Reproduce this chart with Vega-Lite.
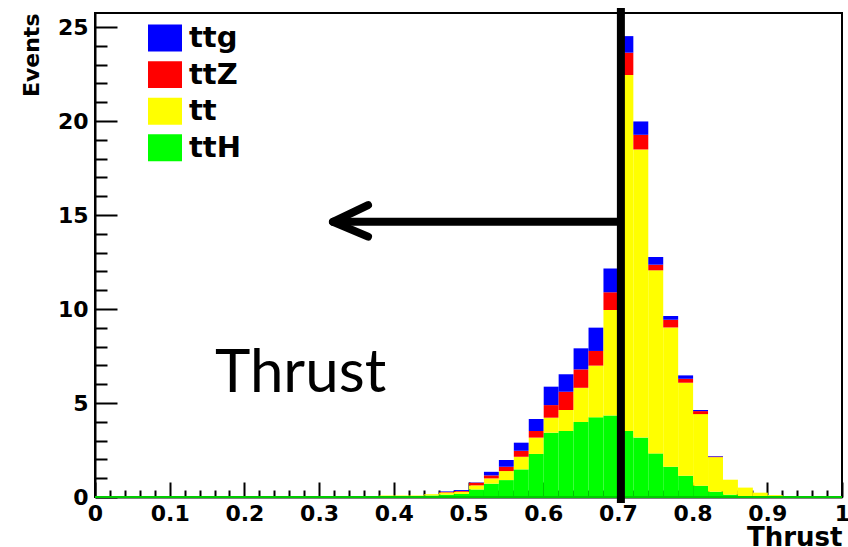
{
  "$schema": "https://vega.github.io/schema/vega-lite/v6.json",
  "width": 747,
  "height": 484,
  "autosize": {"type": "none"},
  "padding": {"left": 95, "top": 13, "right": 6, "bottom": 50},
  "background": "white",
  "config": {
    "view": {"stroke": "black", "strokeWidth": 2},
    "axis": {"grid": false, "zindex": 1},
    "legend": {
      "orient": "none",
      "legendX": 53,
      "legendY": 8,
      "symbolType": "M-1,-0.79H1V0.79H-1Z",
      "symbolSize": 1156,
      "symbolStrokeWidth": 0,
      "symbolOpacity": 1,
      "labelFont": "DejaVu Sans",
      "labelFontWeight": "bold",
      "labelFontSize": 29,
      "labelColor": "black",
      "labelOffset": 7,
      "rowPadding": 4.6
    }
  },
  "data": {
    "values": [
      {"bin": 0.38, "process": "tt", "n": 0.08, "rank": 2},
      {"bin": 0.40, "process": "tt", "n": 0.08, "rank": 2},
      {"bin": 0.42, "process": "tt", "n": 0.08, "rank": 2},
      {"bin": 0.44, "process": "ttH", "n": 0.08, "rank": 1},
      {"bin": 0.44, "process": "tt", "n": 0.07, "rank": 2},
      {"bin": 0.46, "process": "ttH", "n": 0.12, "rank": 1},
      {"bin": 0.46, "process": "tt", "n": 0.12, "rank": 2},
      {"bin": 0.46, "process": "ttZ", "n": 0.03, "rank": 3},
      {"bin": 0.46, "process": "ttg", "n": 0.03, "rank": 4},
      {"bin": 0.48, "process": "ttH", "n": 0.16, "rank": 1},
      {"bin": 0.48, "process": "tt", "n": 0.12, "rank": 2},
      {"bin": 0.48, "process": "ttZ", "n": 0.04, "rank": 3},
      {"bin": 0.48, "process": "ttg", "n": 0.05, "rank": 4},
      {"bin": 0.50, "process": "ttH", "n": 0.40, "rank": 1},
      {"bin": 0.50, "process": "tt", "n": 0.22, "rank": 2},
      {"bin": 0.50, "process": "ttZ", "n": 0.14, "rank": 3},
      {"bin": 0.50, "process": "ttg", "n": 0.02, "rank": 4},
      {"bin": 0.52, "process": "ttH", "n": 0.71, "rank": 1},
      {"bin": 0.52, "process": "tt", "n": 0.28, "rank": 2},
      {"bin": 0.52, "process": "ttZ", "n": 0.16, "rank": 3},
      {"bin": 0.52, "process": "ttg", "n": 0.19, "rank": 4},
      {"bin": 0.54, "process": "ttH", "n": 0.90, "rank": 1},
      {"bin": 0.54, "process": "tt", "n": 0.48, "rank": 2},
      {"bin": 0.54, "process": "ttZ", "n": 0.23, "rank": 3},
      {"bin": 0.54, "process": "ttg", "n": 0.36, "rank": 4},
      {"bin": 0.56, "process": "ttH", "n": 1.47, "rank": 1},
      {"bin": 0.56, "process": "tt", "n": 0.67, "rank": 2},
      {"bin": 0.56, "process": "ttZ", "n": 0.32, "rank": 3},
      {"bin": 0.56, "process": "ttg", "n": 0.43, "rank": 4},
      {"bin": 0.58, "process": "ttH", "n": 2.29, "rank": 1},
      {"bin": 0.58, "process": "tt", "n": 0.87, "rank": 2},
      {"bin": 0.58, "process": "ttZ", "n": 0.35, "rank": 3},
      {"bin": 0.58, "process": "ttg", "n": 0.64, "rank": 4},
      {"bin": 0.60, "process": "ttH", "n": 3.42, "rank": 1},
      {"bin": 0.60, "process": "tt", "n": 0.80, "rank": 2},
      {"bin": 0.60, "process": "ttZ", "n": 0.67, "rank": 3},
      {"bin": 0.60, "process": "ttg", "n": 0.98, "rank": 4},
      {"bin": 0.62, "process": "ttH", "n": 3.51, "rank": 1},
      {"bin": 0.62, "process": "tt", "n": 1.12, "rank": 2},
      {"bin": 0.62, "process": "ttZ", "n": 0.97, "rank": 3},
      {"bin": 0.62, "process": "ttg", "n": 0.93, "rank": 4},
      {"bin": 0.64, "process": "ttH", "n": 3.99, "rank": 1},
      {"bin": 0.64, "process": "tt", "n": 1.82, "rank": 2},
      {"bin": 0.64, "process": "ttZ", "n": 0.98, "rank": 3},
      {"bin": 0.64, "process": "ttg", "n": 1.12, "rank": 4},
      {"bin": 0.66, "process": "ttH", "n": 4.24, "rank": 1},
      {"bin": 0.66, "process": "tt", "n": 2.75, "rank": 2},
      {"bin": 0.66, "process": "ttZ", "n": 0.78, "rank": 3},
      {"bin": 0.66, "process": "ttg", "n": 1.24, "rank": 4},
      {"bin": 0.68, "process": "ttH", "n": 4.33, "rank": 1},
      {"bin": 0.68, "process": "tt", "n": 5.62, "rank": 2},
      {"bin": 0.68, "process": "ttZ", "n": 0.94, "rank": 3},
      {"bin": 0.68, "process": "ttg", "n": 1.27, "rank": 4},
      {"bin": 0.70, "process": "ttH", "n": 3.51, "rank": 1},
      {"bin": 0.70, "process": "tt", "n": 18.94, "rank": 2},
      {"bin": 0.70, "process": "ttZ", "n": 1.19, "rank": 3},
      {"bin": 0.70, "process": "ttg", "n": 0.88, "rank": 4},
      {"bin": 0.72, "process": "ttH", "n": 3.16, "rank": 1},
      {"bin": 0.72, "process": "tt", "n": 15.33, "rank": 2},
      {"bin": 0.72, "process": "ttZ", "n": 0.78, "rank": 3},
      {"bin": 0.72, "process": "ttg", "n": 0.71, "rank": 4},
      {"bin": 0.74, "process": "ttH", "n": 2.32, "rank": 1},
      {"bin": 0.74, "process": "tt", "n": 9.74, "rank": 2},
      {"bin": 0.74, "process": "ttZ", "n": 0.30, "rank": 3},
      {"bin": 0.74, "process": "ttg", "n": 0.41, "rank": 4},
      {"bin": 0.76, "process": "ttH", "n": 1.61, "rank": 1},
      {"bin": 0.76, "process": "tt", "n": 7.41, "rank": 2},
      {"bin": 0.76, "process": "ttZ", "n": 0.41, "rank": 3},
      {"bin": 0.76, "process": "ttg", "n": 0.20, "rank": 4},
      {"bin": 0.78, "process": "ttH", "n": 1.13, "rank": 1},
      {"bin": 0.78, "process": "tt", "n": 4.95, "rank": 2},
      {"bin": 0.78, "process": "ttZ", "n": 0.21, "rank": 3},
      {"bin": 0.78, "process": "ttg", "n": 0.18, "rank": 4},
      {"bin": 0.80, "process": "ttH", "n": 0.60, "rank": 1},
      {"bin": 0.80, "process": "tt", "n": 3.81, "rank": 2},
      {"bin": 0.80, "process": "ttZ", "n": 0.16, "rank": 3},
      {"bin": 0.80, "process": "ttg", "n": 0.06, "rank": 4},
      {"bin": 0.82, "process": "ttH", "n": 0.28, "rank": 1},
      {"bin": 0.82, "process": "tt", "n": 1.84, "rank": 2},
      {"bin": 0.82, "process": "ttZ", "n": 0.03, "rank": 3},
      {"bin": 0.82, "process": "ttg", "n": 0.03, "rank": 4},
      {"bin": 0.84, "process": "ttH", "n": 0.12, "rank": 1},
      {"bin": 0.84, "process": "tt", "n": 0.80, "rank": 2},
      {"bin": 0.86, "process": "ttH", "n": 0.03, "rank": 1},
      {"bin": 0.86, "process": "tt", "n": 0.47, "rank": 2},
      {"bin": 0.88, "process": "tt", "n": 0.23, "rank": 2},
      {"bin": 0.90, "process": "tt", "n": 0.10, "rank": 2},
      {"bin": 0.92, "process": "tt", "n": 0.03, "rank": 2}
    ]
  },
  "resolve": {"axis": {"x": "independent", "y": "independent"}},
  "layer": [
    {
      "mark": {"type": "bar", "opacity": 1, "binSpacing": 0},
      "encoding": {
        "x": {
          "field": "bin", "type": "quantitative",
          "bin": {"binned": true, "step": 0.02},
          "scale": {"domain": [0, 1], "nice": false, "zero": false},
          "axis": {
            "orient": "bottom",
            "values": [0, 0.1, 0.2, 0.3, 0.4, 0.5, 0.6, 0.7, 0.8, 0.9, 1],
            "format": "~g",
            "tickSize": -15, "tickWidth": 2, "tickColor": "black",
            "domainColor": "black", "domainWidth": 2,
            "labelFont": "DejaVu Sans", "labelFontWeight": "bold", "labelFontSize": 22,
            "labelColor": "black", "labelPadding": 21, "labelFlush": false, "labelOverlap": false,
            "labelBaseline": "top",
            "title": "Thrust",
            "titleFont": "DejaVu Sans", "titleFontWeight": "bold", "titleFontSize": 26,
            "titleColor": "black",
            "titleX": 747, "titleY": 48, "titleAlign": "right", "titleBaseline": "alphabetic", "titleAnchor": "end"
          }
        },
        "y": {
          "field": "n", "type": "quantitative", "stack": "zero",
          "scale": {"domain": [0, 25.75], "nice": false},
          "axis": {
            "orient": "left",
            "values": [0, 5, 10, 15, 20, 25],
            "format": "d",
            "tickSize": -22, "tickWidth": 2, "tickColor": "black",
            "domainColor": "black", "domainWidth": 2,
            "labelFont": "DejaVu Sans", "labelFontWeight": "bold", "labelFontSize": 22,
            "labelColor": "black", "labelPadding": 29, "labelOverlap": false, "labelFlush": false,
            "title": "Events",
            "titleFont": "DejaVu Sans", "titleFontWeight": "bold", "titleFontSize": 22,
            "titleColor": "black",
            "titleAngle": -90, "titleX": -64, "titleY": 0,
            "titleAlign": "right", "titleBaseline": "middle", "titleAnchor": "end"
          }
        },
        "color": {
          "field": "process", "type": "nominal",
          "scale": {"domain": ["ttg", "ttZ", "tt", "ttH"], "range": ["#0000ff", "#ff0000", "#ffff00", "#00ff00"]},
          "legend": {"title": null}
        },
        "order": {"field": "rank", "type": "quantitative", "sort": "ascending"}
      }
    },
    {
      "data": {"values": [{}]},
      "mark": {"type": "rule", "color": "#00cc00", "strokeWidth": 2},
      "encoding": {
        "x": {
          "datum": 0, "type": "quantitative",
          "axis": {
            "orient": "bottom",
            "values": [0.02, 0.04, 0.06, 0.08, 0.12, 0.14, 0.16, 0.18, 0.22, 0.24, 0.26, 0.28, 0.32, 0.34, 0.36, 0.38, 0.42, 0.44, 0.46, 0.48, 0.52, 0.54, 0.56, 0.58, 0.62, 0.64, 0.66, 0.68, 0.72, 0.74, 0.76, 0.78, 0.82, 0.84, 0.86, 0.88, 0.92, 0.94, 0.96, 0.98],
            "tickSize": -7, "tickWidth": 2, "tickColor": "black",
            "labels": false, "domain": false, "title": null
          }
        },
        "x2": {"datum": 1},
        "y": {
          "datum": 0, "type": "quantitative",
          "axis": {
            "orient": "left",
            "values": [1, 2, 3, 4, 6, 7, 8, 9, 11, 12, 13, 14, 16, 17, 18, 19, 21, 22, 23, 24],
            "tickSize": -12, "tickWidth": 2, "tickColor": "black",
            "labels": false, "domain": false, "title": null
          }
        }
      }
    },
    {
      "data": {"values": [{}]},
      "mark": {"type": "rule", "color": "black", "strokeWidth": 8},
      "encoding": {
        "x": {"datum": 0.704, "type": "quantitative", "axis": null},
        "y": {"datum": 26.01, "type": "quantitative", "axis": null},
        "y2": {"datum": -0.32}
      }
    },
    {
      "data": {"values": [{}]},
      "mark": {"type": "rule", "color": "black", "strokeWidth": 8},
      "encoding": {
        "x": {"datum": 0.702, "type": "quantitative", "axis": null},
        "x2": {"datum": 0.3186},
        "y": {"datum": 14.64, "type": "quantitative", "axis": null}
      }
    },
    {
      "data": {"values": [{}]},
      "mark": {"type": "rule", "color": "black", "strokeWidth": 8, "strokeCap": "round"},
      "encoding": {
        "x": {"datum": 0.3186, "type": "quantitative", "axis": null},
        "x2": {"datum": 0.3655},
        "y": {"datum": 14.64, "type": "quantitative", "axis": null},
        "y2": {"datum": 15.53}
      }
    },
    {
      "data": {"values": [{}]},
      "mark": {"type": "rule", "color": "black", "strokeWidth": 8, "strokeCap": "round"},
      "encoding": {
        "x": {"datum": 0.3186, "type": "quantitative", "axis": null},
        "x2": {"datum": 0.3655},
        "y": {"datum": 14.64, "type": "quantitative", "axis": null},
        "y2": {"datum": 13.85}
      }
    },
    {
      "data": {"values": [{}]},
      "mark": {"type": "text", "text": "Thrust", "font": "Lato", "fontSize": 60, "align": "left", "baseline": "alphabetic", "color": "black"},
      "encoding": {
        "x": {"datum": 0.1606, "type": "quantitative", "axis": null},
        "y": {"datum": 5.59, "type": "quantitative", "axis": null}
      }
    }
  ]
}
